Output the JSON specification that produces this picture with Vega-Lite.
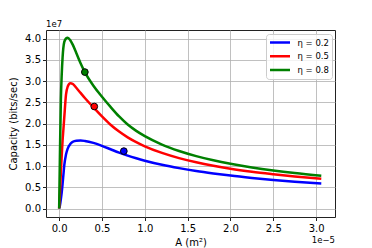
{
  "$schema": "https://vega.github.io/schema/vega-lite/v6.json",
  "autosize": "none",
  "width": 289,
  "height": 187,
  "padding": {"left": 46, "top": 30, "right": 37, "bottom": 31},
  "background": "white",
  "config": {
    "font": "DejaVu Sans",
    "view": {"stroke": "#222", "strokeWidth": 1},
    "axis": {
      "domain": false,
      "grid": true,
      "gridColor": "#b0b0b0",
      "gridWidth": 0.8,
      "tickColor": "#222",
      "tickSize": 3.5,
      "labelColor": "black",
      "labelFontSize": 10,
      "labelFont": "DejaVu Sans",
      "labelOverlap": false,
      "titleFont": "DejaVu Sans",
      "titleFontSize": 10,
      "titleFontWeight": "normal",
      "titleColor": "black"
    }
  },
  "datasets": {
    "curves": [
      {"A": 0, "C": 0, "eta": "η = 0.2"},
      {"A": 0.01, "C": 0.08, "eta": "η = 0.2"},
      {"A": 0.02, "C": 0.22, "eta": "η = 0.2"},
      {"A": 0.03, "C": 0.38, "eta": "η = 0.2"},
      {"A": 0.04, "C": 0.58, "eta": "η = 0.2"},
      {"A": 0.05, "C": 0.8, "eta": "η = 0.2"},
      {"A": 0.06, "C": 1.02, "eta": "η = 0.2"},
      {"A": 0.08, "C": 1.27, "eta": "η = 0.2"},
      {"A": 0.1, "C": 1.41, "eta": "η = 0.2"},
      {"A": 0.13, "C": 1.52, "eta": "η = 0.2"},
      {"A": 0.16, "C": 1.57, "eta": "η = 0.2"},
      {"A": 0.2, "C": 1.595, "eta": "η = 0.2"},
      {"A": 0.25, "C": 1.6, "eta": "η = 0.2"},
      {"A": 0.3, "C": 1.59, "eta": "η = 0.2"},
      {"A": 0.4, "C": 1.545, "eta": "η = 0.2"},
      {"A": 0.5, "C": 1.475, "eta": "η = 0.2"},
      {"A": 0.6, "C": 1.394, "eta": "η = 0.2"},
      {"A": 0.7, "C": 1.314, "eta": "η = 0.2"},
      {"A": 0.8, "C": 1.243, "eta": "η = 0.2"},
      {"A": 0.9, "C": 1.181, "eta": "η = 0.2"},
      {"A": 1.0, "C": 1.125, "eta": "η = 0.2"},
      {"A": 1.2, "C": 1.029, "eta": "η = 0.2"},
      {"A": 1.4, "C": 0.95, "eta": "η = 0.2"},
      {"A": 1.6, "C": 0.882, "eta": "η = 0.2"},
      {"A": 1.8, "C": 0.825, "eta": "η = 0.2"},
      {"A": 2.0, "C": 0.774, "eta": "η = 0.2"},
      {"A": 2.25, "C": 0.72, "eta": "η = 0.2"},
      {"A": 2.5, "C": 0.672, "eta": "η = 0.2"},
      {"A": 2.75, "C": 0.631, "eta": "η = 0.2"},
      {"A": 3.06, "C": 0.587, "eta": "η = 0.2"},

      {"A": 0, "C": 0, "eta": "η = 0.5"},
      {"A": 0.01, "C": 0.38, "eta": "η = 0.5"},
      {"A": 0.02, "C": 0.85, "eta": "η = 0.5"},
      {"A": 0.03, "C": 1.25, "eta": "η = 0.5"},
      {"A": 0.04, "C": 1.6, "eta": "η = 0.5"},
      {"A": 0.05, "C": 1.87, "eta": "η = 0.5"},
      {"A": 0.06, "C": 2.15, "eta": "η = 0.5"},
      {"A": 0.08, "C": 2.68, "eta": "η = 0.5"},
      {"A": 0.1, "C": 2.87, "eta": "η = 0.5"},
      {"A": 0.13, "C": 2.95, "eta": "η = 0.5"},
      {"A": 0.16, "C": 2.93, "eta": "η = 0.5"},
      {"A": 0.2, "C": 2.84, "eta": "η = 0.5"},
      {"A": 0.25, "C": 2.72, "eta": "η = 0.5"},
      {"A": 0.3, "C": 2.6, "eta": "η = 0.5"},
      {"A": 0.4, "C": 2.38, "eta": "η = 0.5"},
      {"A": 0.5, "C": 2.165, "eta": "η = 0.5"},
      {"A": 0.6, "C": 1.97, "eta": "η = 0.5"},
      {"A": 0.7, "C": 1.809, "eta": "η = 0.5"},
      {"A": 0.8, "C": 1.673, "eta": "η = 0.5"},
      {"A": 0.9, "C": 1.56, "eta": "η = 0.5"},
      {"A": 1.0, "C": 1.464, "eta": "η = 0.5"},
      {"A": 1.2, "C": 1.308, "eta": "η = 0.5"},
      {"A": 1.4, "C": 1.186, "eta": "η = 0.5"},
      {"A": 1.6, "C": 1.087, "eta": "η = 0.5"},
      {"A": 1.8, "C": 1.005, "eta": "η = 0.5"},
      {"A": 2.0, "C": 0.936, "eta": "η = 0.5"},
      {"A": 2.25, "C": 0.866, "eta": "η = 0.5"},
      {"A": 2.5, "C": 0.808, "eta": "η = 0.5"},
      {"A": 2.75, "C": 0.755, "eta": "η = 0.5"},
      {"A": 3.06, "C": 0.698, "eta": "η = 0.5"},

      {"A": 0, "C": 0, "eta": "η = 0.8"},
      {"A": 0.01, "C": 1.4, "eta": "η = 0.8"},
      {"A": 0.02, "C": 2.55, "eta": "η = 0.8"},
      {"A": 0.03, "C": 3.15, "eta": "η = 0.8"},
      {"A": 0.04, "C": 3.55, "eta": "η = 0.8"},
      {"A": 0.06, "C": 3.92, "eta": "η = 0.8"},
      {"A": 0.08, "C": 4.0, "eta": "η = 0.8"},
      {"A": 0.1, "C": 4.02, "eta": "η = 0.8"},
      {"A": 0.13, "C": 3.96, "eta": "η = 0.8"},
      {"A": 0.16, "C": 3.85, "eta": "η = 0.8"},
      {"A": 0.2, "C": 3.66, "eta": "η = 0.8"},
      {"A": 0.25, "C": 3.42, "eta": "η = 0.8"},
      {"A": 0.3, "C": 3.21, "eta": "η = 0.8"},
      {"A": 0.4, "C": 2.89, "eta": "η = 0.8"},
      {"A": 0.5, "C": 2.63, "eta": "η = 0.8"},
      {"A": 0.6, "C": 2.39, "eta": "η = 0.8"},
      {"A": 0.7, "C": 2.165, "eta": "η = 0.8"},
      {"A": 0.8, "C": 1.976, "eta": "η = 0.8"},
      {"A": 0.9, "C": 1.826, "eta": "η = 0.8"},
      {"A": 1.0, "C": 1.702, "eta": "η = 0.8"},
      {"A": 1.2, "C": 1.504, "eta": "η = 0.8"},
      {"A": 1.4, "C": 1.353, "eta": "η = 0.8"},
      {"A": 1.6, "C": 1.232, "eta": "η = 0.8"},
      {"A": 1.8, "C": 1.134, "eta": "η = 0.8"},
      {"A": 2.0, "C": 1.052, "eta": "η = 0.8"},
      {"A": 2.25, "C": 0.967, "eta": "η = 0.8"},
      {"A": 2.5, "C": 0.896, "eta": "η = 0.8"},
      {"A": 2.75, "C": 0.836, "eta": "η = 0.8"},
      {"A": 3.06, "C": 0.773, "eta": "η = 0.8"}
    ],
    "dots": [
      {"A": 0.755, "C": 1.35, "eta": "η = 0.2"},
      {"A": 0.41, "C": 2.4, "eta": "η = 0.5"},
      {"A": 0.3, "C": 3.21, "eta": "η = 0.8"}
    ],
    "offsets": [
      {"A": -0.1535, "C": 4.2, "label": "1e7", "pos": "left"},
      {"A": 3.22, "C": -0.2, "label": "1e−5", "pos": "right"}
    ]
  },
  "encoding": {
    "x": {
      "field": "A", "type": "quantitative",
      "scale": {"domain": [-0.1535, 3.22], "nice": false, "zero": false},
      "axis": {"values": [0, 0.5, 1, 1.5, 2, 2.5, 3], "format": ".1f", "title": "A (m²)", "labelPadding": 3, "titlePadding": 4}
    },
    "y": {
      "field": "C", "type": "quantitative",
      "scale": {"domain": [-0.2, 4.2], "nice": false, "zero": false},
      "axis": {"values": [0, 0.5, 1, 1.5, 2, 2.5, 3, 3.5, 4], "format": ".1f", "title": "Capacity (bits/sec)", "labelPadding": 2, "titlePadding": 6}
    }
  },
  "layer": [
    {
      "data": {"name": "curves"},
      "mark": {"type": "line", "strokeWidth": 2.5, "interpolate": "monotone", "clip": true},
      "encoding": {
        "color": {
          "field": "eta", "type": "nominal",
          "scale": {"domain": ["η = 0.2", "η = 0.5", "η = 0.8"], "range": ["#0000ff", "#ff0000", "#008000"]},
          "legend": {
            "title": null,
            "orient": "top-right",
            "offset": 3.5,
            "fillColor": "rgba(255,255,255,0.8)",
            "strokeColor": "#cccccc",
            "cornerRadius": 3,
            "padding": 2.5,
            "symbolType": "stroke",
            "symbolSize": 400,
            "symbolStrokeWidth": 2.5,
            "clipHeight": 12,
            "labelFontSize": 8.5,
            "labelFont": "DejaVu Sans",
            "labelColor": "black",
            "rowPadding": 1.7,
            "labelOffset": 6
          }
        }
      }
    },
    {
      "data": {"name": "dots"},
      "mark": {"type": "point", "filled": true, "size": 45, "stroke": "black", "strokeWidth": 1, "opacity": 1},
      "encoding": {
        "fill": {
          "field": "eta", "type": "nominal",
          "scale": {"domain": ["η = 0.2", "η = 0.5", "η = 0.8"], "range": ["#0000ff", "#ff0000", "#008000"]},
          "legend": null
        }
      }
    },
    {
      "data": {"name": "offsets"},
      "transform": [{"filter": "datum.pos == 'left'"}],
      "mark": {"type": "text", "align": "left", "baseline": "bottom", "dy": -1, "fontSize": 8.5, "font": "DejaVu Sans", "color": "black", "clip": false},
      "encoding": {
        "text": {"field": "label"}
      }
    },
    {
      "data": {"name": "offsets"},
      "transform": [{"filter": "datum.pos == 'right'"}],
      "mark": {"type": "text", "align": "right", "baseline": "top", "dy": 19, "fontSize": 8.5, "font": "DejaVu Sans", "color": "black", "clip": false},
      "encoding": {
        "text": {"field": "label"}
      }
    }
  ]
}
